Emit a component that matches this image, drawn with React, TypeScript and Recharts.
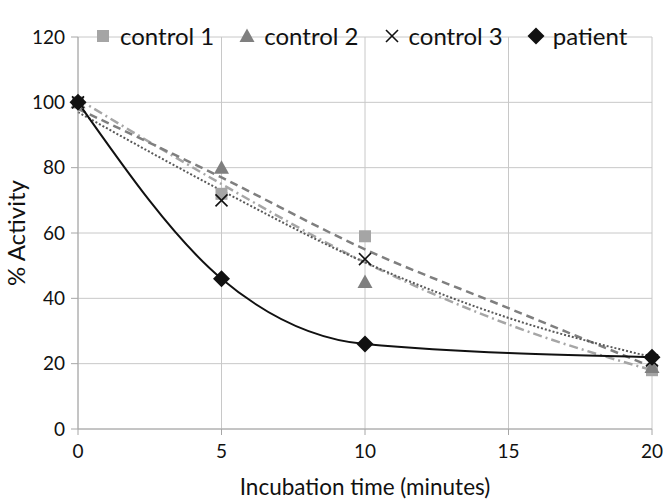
import React from "react";
import {
  LineChart,
  Line,
  XAxis,
  YAxis,
  CartesianGrid,
  Legend,
} from "recharts";

// minutes
const time = [0, 5, 10, 15, 20];
// measured % activity (no sample at 15 min)
const control1 = [100, 72, 59, null, 18];
const control2 = [100, 80, 45, null, 19];
const control3 = [100, 70, 52, null, 21];
const patient = [100, 46, 26, null, 22];
// trend lines
const trend1 = [101, 75, 51, 32, 18];
const trend2 = [98, 77, 55, 37, 19];
const trend3 = [97, 73, 51, 34, 22];

const xTicks = [0, 5, 10, 15, 20];
const yTicks = [0, 20, 40, 60, 80, 100, 120];

const data = time.map((t, i) => ({
  t,
  c1: control1[i],
  c2: control2[i],
  c3: control3[i],
  pt: patient[i],
  tr1: trend1[i],
  tr2: trend2[i],
  tr3: trend3[i],
}));

const FONT = "Lato, 'Open Sans', sans-serif";
const GRID = "#c8c8c8";
const AXIS = "#a6a6a6";

type Kind = "square" | "triangle" | "cross" | "diamond";

function Marker({ kind, cx, cy }: { kind: Kind; cx: number; cy: number }) {
  if (kind === "square")
    return <rect x={cx - 6} y={cy - 6} width={12} height={12} fill="#a5a5a5" />;
  if (kind === "triangle")
    return (
      <polygon
        points={`${cx},${cy - 7.5} ${cx + 7.5},${cy + 6} ${cx - 7.5},${cy + 6}`}
        fill="#7f7f7f"
      />
    );
  if (kind === "cross")
    return (
      <g stroke="#111" strokeWidth={1.6}>
        <line x1={cx - 6} y1={cy - 6} x2={cx + 6} y2={cy + 6} />
        <line x1={cx - 6} y1={cy + 6} x2={cx + 6} y2={cy - 6} />
      </g>
    );
  return (
    <polygon
      points={`${cx},${cy - 8.5} ${cx + 8.5},${cy} ${cx},${cy + 8.5} ${cx - 8.5},${cy}`}
      fill="#111"
    />
  );
}

const dotOf = (kind: Kind) => (props: any) => {
  const { cx, cy, index } = props;
  if (cx == null || cy == null || props.value == null) return <g key={`${kind}-${index}`} />;
  return (
    <g key={`${kind}-${index}`}>
      <Marker kind={kind} cx={cx} cy={cy} />
    </g>
  );
};

const legendItems: { label: string; kind: Kind }[] = [
  { label: "control 1", kind: "square" },
  { label: "control 2", kind: "triangle" },
  { label: "control 3", kind: "cross" },
  { label: "patient", kind: "diamond" },
];

function LegendBox() {
  return (
    <div style={{ display: "flex", alignItems: "center", fontFamily: FONT, fontSize: 24, color: "#111" }}>
      {legendItems.map((it) => (
        <div key={it.label} style={{ display: "flex", alignItems: "center", marginRight: 24 }}>
          <svg width={18} height={18} style={{ marginRight: 8 }}>
            <Marker kind={it.kind} cx={9} cy={9} />
          </svg>
          <span>{it.label}</span>
        </div>
      ))}
    </div>
  );
}

export default function App() {
  return (
    <div style={{ position: "absolute", left: 0, top: 0, background: "#fff" }}>
      <LineChart
        width={663}
        height={502}
        data={data}
        margin={{ top: 8, right: 11, left: 0, bottom: 0 }}
      >
        <CartesianGrid stroke={GRID} strokeWidth={1} />
        <XAxis
          dataKey="t"
          type="number"
          domain={[0, 20]}
          ticks={xTicks}
          height={73}
          tickSize={6}
          tickMargin={10}
          stroke={AXIS}
          tick={{ fill: "#111", fontSize: 19, fontFamily: FONT }}
          label={{
            value: "Incubation time (minutes)",
            position: "insideBottom",
            offset: 7,
            style: { fill: "#111", fontSize: 22.5, fontFamily: FONT },
          }}
        />
        <YAxis
          type="number"
          domain={[0, 120]}
          ticks={yTicks}
          width={78}
          tickSize={7}
          tickMargin={6}
          stroke={AXIS}
          tick={{ fill: "#111", fontSize: 19, fontFamily: FONT }}
          label={{
            value: "% Activity",
            angle: -90,
            position: "insideLeft",
            offset: 16,
            style: { fill: "#111", fontSize: 24, fontFamily: FONT, textAnchor: "middle" },
          }}
        />
        <Legend
          verticalAlign="top"
          content={() => <LegendBox />}
          wrapperStyle={{ top: 21, left: 94, width: "auto" }}
        />
        {/* trend lines */}
        <Line
          type="monotone"
          dataKey="tr1"
          stroke="#a6a6a6"
          strokeWidth={2.5}
          strokeDasharray="9 4 2 4"
          dot={false}
          activeDot={false}
          isAnimationActive={false}
        />
        <Line
          type="monotone"
          dataKey="tr2"
          stroke="#7f7f7f"
          strokeWidth={2.5}
          strokeDasharray="8 5"
          dot={false}
          activeDot={false}
          isAnimationActive={false}
        />
        <Line
          type="monotone"
          dataKey="tr3"
          stroke="#595959"
          strokeWidth={2}
          strokeDasharray="2 2"
          dot={false}
          activeDot={false}
          isAnimationActive={false}
        />
        {/* measured points */}
        <Line
          dataKey="c1"
          stroke="none"
          dot={dotOf("square")}
          activeDot={false}
          isAnimationActive={false}
        />
        <Line
          dataKey="c2"
          stroke="none"
          dot={dotOf("triangle")}
          activeDot={false}
          isAnimationActive={false}
        />
        <Line
          dataKey="c3"
          stroke="none"
          dot={dotOf("cross")}
          activeDot={false}
          isAnimationActive={false}
        />
        <Line
          type="monotone"
          dataKey="pt"
          stroke="#111"
          strokeWidth={2}
          connectNulls
          dot={dotOf("diamond")}
          activeDot={false}
          isAnimationActive={false}
        />
      </LineChart>
    </div>
  );
}
